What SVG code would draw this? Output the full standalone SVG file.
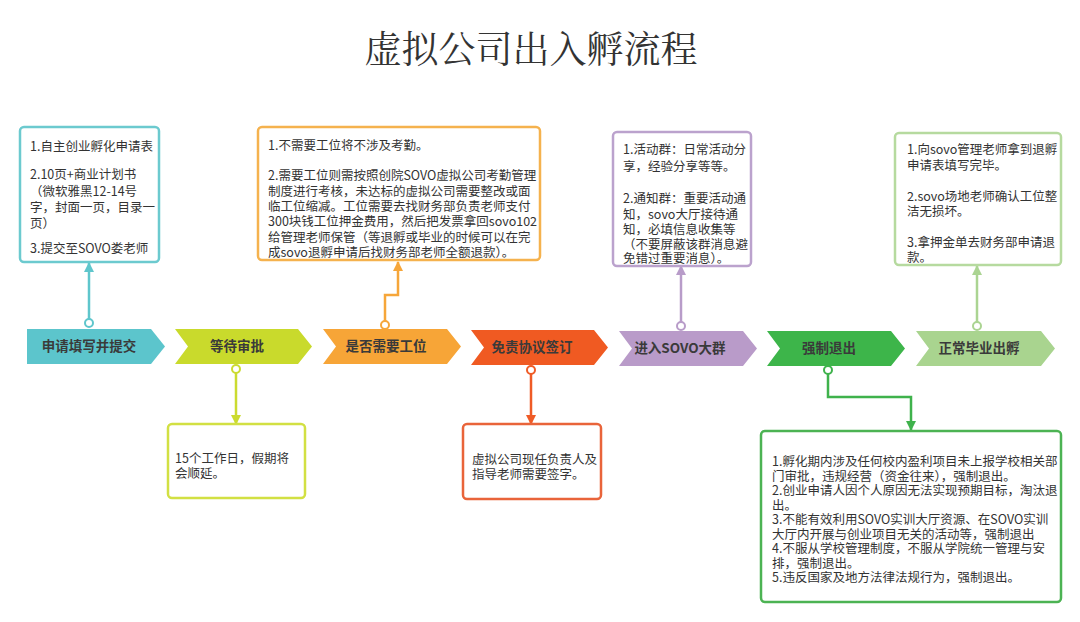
<svg xmlns="http://www.w3.org/2000/svg" width="1080" height="622" viewBox="0 0 1080 622">
<defs>
<style>
.title{font-family:"Noto Serif CJK SC","Noto Sans CJK SC",serif;font-size:37px;fill:#333;text-anchor:middle}
.t{font-family:"Noto Sans CJK SC","Noto Sans",sans-serif;font-size:12.5px;fill:#333}
.lab{font-family:"Noto Sans CJK SC","Noto Sans",sans-serif;font-size:13.5px;font-weight:bold;fill:#3a3a3a;text-anchor:middle}
.box{fill:#fff;stroke-width:2.5}
.con{fill:none;stroke-width:2.5}
.dot{fill:#fff;stroke-width:2}
</style>
<marker id="aTeal" viewBox="0 0 10 10" refX="9" refY="5" markerWidth="12" markerHeight="10" markerUnits="userSpaceOnUse" orient="auto"><path d="M0,0 L10,5 L0,10 Z" fill="#5fc6cc"/></marker>
<marker id="aYel" viewBox="0 0 10 10" refX="9" refY="5" markerWidth="12" markerHeight="10" markerUnits="userSpaceOnUse" orient="auto"><path d="M0,0 L10,5 L0,10 Z" fill="#cbdb30"/></marker>
<marker id="aOra" viewBox="0 0 10 10" refX="9" refY="5" markerWidth="12" markerHeight="10" markerUnits="userSpaceOnUse" orient="auto"><path d="M0,0 L10,5 L0,10 Z" fill="#f6a63a"/></marker>
<marker id="aRed" viewBox="0 0 10 10" refX="9" refY="5" markerWidth="12" markerHeight="10" markerUnits="userSpaceOnUse" orient="auto"><path d="M0,0 L10,5 L0,10 Z" fill="#ef5b26"/></marker>
<marker id="aPur" viewBox="0 0 10 10" refX="9" refY="5" markerWidth="12" markerHeight="10" markerUnits="userSpaceOnUse" orient="auto"><path d="M0,0 L10,5 L0,10 Z" fill="#b89cc9"/></marker>
<marker id="aGrn" viewBox="0 0 10 10" refX="9" refY="5" markerWidth="12" markerHeight="10" markerUnits="userSpaceOnUse" orient="auto"><path d="M0,0 L10,5 L0,10 Z" fill="#3fb24c"/></marker>
<marker id="aLgr" viewBox="0 0 10 10" refX="9" refY="5" markerWidth="12" markerHeight="10" markerUnits="userSpaceOnUse" orient="auto"><path d="M0,0 L10,5 L0,10 Z" fill="#abd492"/></marker>
</defs>
<rect width="1080" height="622" fill="#fff"/>
<text class="title" x="531" y="63">虚拟公司出入孵流程</text>

<g id="connectors">
<line class="con" x1="89" y1="319" x2="89" y2="263" stroke="#5fc6cc" marker-end="url(#aTeal)"/>
<circle class="dot" cx="89" cy="323" r="4" stroke="#5fc6cc"/>
<line class="con" x1="236" y1="373" x2="236" y2="424" stroke="#cbdb30" marker-end="url(#aYel)"/>
<circle class="dot" cx="236" cy="369" r="4" stroke="#cbdb30"/>
<polyline class="con" points="385,321 385,295 398,295 398,262" stroke="#f6a63a" marker-end="url(#aOra)"/>
<circle class="dot" cx="385" cy="325" r="4" stroke="#f6a63a"/>
<line class="con" x1="531" y1="374" x2="531" y2="424" stroke="#ef5b26" marker-end="url(#aRed)"/>
<circle class="dot" cx="531" cy="370" r="4" stroke="#ef5b26"/>
<line class="con" x1="681" y1="322" x2="681" y2="266" stroke="#b89cc9" marker-end="url(#aPur)"/>
<circle class="dot" cx="681" cy="326" r="4" stroke="#b89cc9"/>
<polyline class="con" points="828,374 828,397 911,397 911,430" stroke="#3fb24c" marker-end="url(#aGrn)"/>
<circle class="dot" cx="828" cy="370" r="4" stroke="#3fb24c"/>
<line class="con" x1="977" y1="322" x2="977" y2="266" stroke="#abd492" marker-end="url(#aLgr)"/>
<circle class="dot" cx="977" cy="326" r="4" stroke="#abd492"/>
</g>

<g id="step1">
<path d="M27,329 H151 L165,346.5 L151,364 H27 Z" fill="#5cc5cc"/>
<text class="lab" x="89" y="351">申请填写并提交</text>
</g>
<g id="step2">
<path d="M175,329 H298 L312,346.5 L298,364 H175 L188,346.5 Z" fill="#c9da2c"/>
<text class="lab" x="237" y="351">等待审批</text>
</g>
<g id="step3">
<path d="M323,329 H447 L461,346.5 L447,364 H323 L336,346.5 Z" fill="#f7a537"/>
<text class="lab" x="386" y="351">是否需要工位</text>
</g>
<g id="step4">
<path d="M471,330 H594 L608,347.5 L594,365 H471 L484,347.5 Z" fill="#f05a22"/>
<text class="lab" x="532" y="352">免责协议签订</text>
</g>
<g id="step5">
<path d="M619,331 H743 L757,348.5 L743,366 H619 L632,348.5 Z" fill="#b99bc9"/>
<text class="lab" x="680" y="353">进入SOVO大群</text>
</g>
<g id="step6">
<path d="M767,331 H891 L905,348.5 L891,366 H767 L780,348.5 Z" fill="#3db54a"/>
<text class="lab" x="829" y="353">强制退出</text>
</g>
<g id="step7">
<path d="M916,331 H1041 L1055,348.5 L1041,366 H916 L929,348.5 Z" fill="#a9d48f"/>
<text class="lab" x="979" y="353">正常毕业出孵</text>
</g>

<g id="box1">
<rect class="box" x="20" y="127" width="139" height="135" rx="4" stroke="#6ccacf"/>
<text class="t" x="30" y="151">1.自主创业孵化申请表</text>
<text class="t" x="30" y="179">2.10页+商业计划书</text>
<text class="t" x="30" y="196">（微软雅黑12-14号</text>
<text class="t" x="30" y="212">字，封面一页，目录一</text>
<text class="t" x="30" y="228">页）</text>
<text class="t" x="30" y="253">3.提交至SOVO娄老师</text>
</g>

<g id="box3">
<rect class="box" x="258" y="127" width="282" height="133" rx="4" stroke="#f5b24e"/>
<text class="t" x="268" y="150">1.不需要工位将不涉及考勤。</text>
<text class="t" x="268" y="180">2.需要工位则需按照创院SOVO虚拟公司考勤管理</text>
<text class="t" x="268" y="196">制度进行考核，未达标的虚拟公司需要整改或面</text>
<text class="t" x="268" y="211">临工位缩减。工位需要去找财务部负责老师支付</text>
<text class="t" x="268" y="226">300块钱工位押金费用，然后把发票拿回sovo102</text>
<text class="t" x="268" y="242">给管理老师保管（等退孵或毕业的时候可以在完</text>
<text class="t" x="268" y="257">成sovo退孵申请后找财务部老师全额退款）。</text>
</g>

<g id="box5">
<rect class="box" x="613" y="132" width="138" height="134" rx="4" stroke="#bba2cd"/>
<text class="t" x="623" y="154">1.活动群：日常活动分</text>
<text class="t" x="623" y="171">享，经验分享等等。</text>
<text class="t" x="623" y="203">2.通知群：重要活动通</text>
<text class="t" x="623" y="219">知，sovo大厅接待通</text>
<text class="t" x="623" y="234">知，必填信息收集等</text>
<text class="t" x="623" y="249">（不要屏蔽该群消息避</text>
<text class="t" x="623" y="263">免错过重要消息）。</text>
</g>

<g id="box7">
<rect class="box" x="895" y="133" width="166" height="132" rx="4" stroke="#b6da9f"/>
<text class="t" x="907" y="154">1.向sovo管理老师拿到退孵</text>
<text class="t" x="907" y="170">申请表填写完毕。</text>
<text class="t" x="907" y="201">2.sovo场地老师确认工位整</text>
<text class="t" x="907" y="216">洁无损坏。</text>
<text class="t" x="907" y="247">3.拿押金单去财务部申请退</text>
<text class="t" x="907" y="262">款。</text>
</g>

<g id="box2">
<rect class="box" x="168" y="424" width="137" height="74" rx="4" stroke="#d2e043"/>
<text class="t" x="175" y="463">15个工作日，假期将</text>
<text class="t" x="175" y="478">会顺延。</text>
</g>

<g id="box4">
<rect class="box" x="463" y="424" width="138" height="75" rx="4" stroke="#e9643a"/>
<text class="t" x="472" y="464">虚拟公司现任负责人及</text>
<text class="t" x="472" y="479">指导老师需要签字。</text>
</g>

<g id="box6">
<rect class="box" x="761" y="431" width="300" height="171" rx="4" stroke="#4cb353"/>
<text class="t" x="772" y="466">1.孵化期内涉及任何校内盈利项目未上报学校相关部</text>
<text class="t" x="772" y="480.5">门审批，违规经营（资金往来），强制退出。</text>
<text class="t" x="772" y="495">2.创业申请人因个人原因无法实现预期目标，淘汰退</text>
<text class="t" x="772" y="509.5">出。</text>
<text class="t" x="772" y="524">3.不能有效利用SOVO实训大厅资源、在SOVO实训</text>
<text class="t" x="772" y="538.5">大厅内开展与创业项目无关的活动等，强制退出</text>
<text class="t" x="772" y="553">4.不服从学校管理制度，不服从学院统一管理与安</text>
<text class="t" x="772" y="567.5">排，强制退出。</text>
<text class="t" x="772" y="582">5.违反国家及地方法律法规行为，强制退出。</text>
</g>
</svg>
